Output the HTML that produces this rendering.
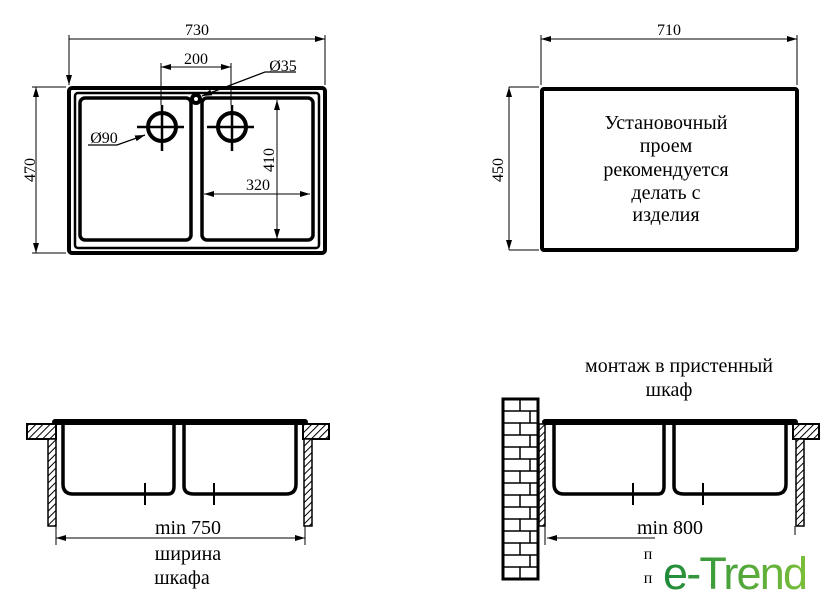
<!DOCTYPE html>
<html><head><meta charset="utf-8"><style>
html,body{margin:0;padding:0;background:#fff}
svg{display:block}
text{font-family:"Liberation Serif",serif;fill:#000}
</style></head><body>
<svg width="840" height="607" viewBox="0 0 840 607" xmlns="http://www.w3.org/2000/svg">
<defs>
<marker id="a" viewBox="0 0 10 6" refX="10" refY="3" markerWidth="10" markerHeight="6" orient="auto-start-reverse" markerUnits="userSpaceOnUse"><path d="M0,0L10,3L0,6z" fill="#000"/></marker>
<pattern id="h" width="5" height="5" patternUnits="userSpaceOnUse" patternTransform="rotate(45)"><rect width="5" height="5" fill="#fff"/><line x1="0" y1="0" x2="0" y2="5" stroke="#000" stroke-width="2"/></pattern>
<linearGradient id="g" x1="0" x2="1" y1="0" y2="0"><stop offset="0" stop-color="#1f8a3a"/><stop offset="1" stop-color="#7cbf3a"/></linearGradient>
</defs>
<!-- TOP LEFT -->
<g fill="none" stroke="#000">
<rect x="69" y="88" width="256" height="165" rx="3" stroke-width="4"/>
<rect x="75" y="93" width="244" height="155" rx="3" stroke-width="2.5"/>
<rect x="80" y="98" width="111" height="142" rx="5" stroke-width="3.5"/>
<rect x="202" y="98" width="111" height="142" rx="5" stroke-width="3.5"/>
<circle cx="196" cy="99" r="4" stroke-width="4"/>
<circle cx="162" cy="127" r="14" stroke-width="4"/>
<circle cx="232" cy="127" r="14" stroke-width="4"/>
<path d="M137 127H184M162 105V151M207 127H254M232 105V151" stroke-width="2.5"/>
<path d="M69 85V35M325 85V35M69 39H325" stroke-width="1" marker-start="url(#a)" marker-end="url(#a)"/>
<path d="M161 105V63M231 105V63" stroke-width="1"/>
<path d="M161 67H231" stroke-width="1" marker-start="url(#a)" marker-end="url(#a)"/>
<path d="M66 87H32M66 253H32" stroke-width="1"/>
<path d="M36 87V253" stroke-width="1" marker-start="url(#a)" marker-end="url(#a)"/>
<path d="M277 100V239" stroke-width="1" marker-start="url(#a)" marker-end="url(#a)"/>
<path d="M204 194H310" stroke-width="1" marker-start="url(#a)" marker-end="url(#a)"/>
<path d="M88 145H117L145 135" stroke-width="1.3" marker-end="url(#a)"/>
<path d="M296 72H265L202 96" stroke-width="1.3" marker-end="url(#a)"/>
</g>
<g font-size="16" text-anchor="middle">
<text x="197" y="35">730</text>
<text x="196" y="64">200</text>
<text x="283" y="71">Ø35</text>
<text x="104" y="143">Ø90</text>
<text x="258" y="190">320</text>
<text transform="translate(35,170) rotate(-90)">470</text>
<text transform="translate(274,160) rotate(-90)">410</text>
</g>
<!-- TOP RIGHT -->
<g fill="none" stroke="#000">
<rect x="542" y="89" width="255" height="161" rx="2" stroke-width="4"/>
<path d="M541 85V35M797 85V35M509 87H539M509 250H539" stroke-width="1"/>
<path d="M541 39H797" stroke-width="1" marker-start="url(#a)" marker-end="url(#a)"/>
<path d="M509 87V250" stroke-width="1" marker-start="url(#a)" marker-end="url(#a)"/>
</g>
<g font-size="16" text-anchor="middle">
<text x="669" y="35">710</text>
<text transform="translate(503,170) rotate(-90)">450</text>
</g>
<g font-size="20" text-anchor="middle">
<text x="666" y="129">Установочный</text>
<text x="666" y="152">проем</text>
<text x="666" y="176">рекомендуется</text>
<text x="666" y="199">делать с</text>
<text x="666" y="221">изделия</text>
</g>
<!-- BOTTOM LEFT -->
<g stroke="#000">
<rect x="27" y="424" width="29" height="15" fill="url(#h)" stroke-width="2"/>
<rect x="303" y="424" width="26" height="15" fill="url(#h)" stroke-width="2"/>
<rect x="48" y="439" width="8" height="87" fill="url(#h)" stroke-width="1.5"/>
<rect x="304" y="439" width="8" height="87" fill="url(#h)" stroke-width="1.5"/>
<path d="M55 422H305" stroke-width="6" stroke-linecap="round"/>
<g fill="none" stroke-width="3.5">
<path d="M63 425V484Q63 494 73 494H168Q174 494 174 486V425"/>
<path d="M184 425V486Q184 494 194 494H286Q296 494 296 484V425"/>
</g>
<path d="M145 483V505M214 483V505" stroke-width="2"/>
<path d="M56 526V545M305 526V545" stroke-width="1"/>
<path d="M56 538H305" stroke-width="1" fill="none" marker-start="url(#a)" marker-end="url(#a)"/>
</g>
<g font-size="20" text-anchor="middle">
<text x="188" y="534">min 750</text>
<text x="188" y="560">ширина</text>
<text x="182" y="584">шкафа</text>
</g>
<!-- BOTTOM RIGHT -->
<text x="679" y="372" font-size="20" text-anchor="middle">монтаж в пристенный</text>
<text x="669" y="396" font-size="20" text-anchor="middle">шкаф</text>
<g stroke="#000">
<rect x="503" y="399" width="35" height="180" fill="#fff" stroke-width="3"/>
<g stroke-width="1.5">
<path d="M503 411H538M503 423H538M503 435H538M503 447H538M503 459H538M503 471H538M503 483H538M503 495H538M503 507H538M503 519H538M503 531H538M503 543H538M503 555H538M503 567H538"/>
<path d="M520 399V411M530 411V423M520 423V435M530 435V447M520 447V459M530 459V471M520 471V483M530 483V495M520 495V507M530 507V519M520 519V531M530 531V543M520 543V555M530 555V567M520 567V579"/>
</g>
<rect x="539" y="424" width="6" height="102" fill="url(#h)" stroke-width="1.5"/>
<rect x="793" y="424" width="26" height="15" fill="url(#h)" stroke-width="2"/>
<rect x="796" y="439" width="8" height="87" fill="url(#h)" stroke-width="1.5"/>
<path d="M545 422H795" stroke-width="6" stroke-linecap="round"/>
<g fill="none" stroke-width="3.5">
<path d="M554 425V484Q554 494 564 494H658Q664 494 664 486V425"/>
<path d="M674 425V486Q674 494 684 494H776Q786 494 786 484V425"/>
</g>
<path d="M633 483V505M703 483V505" stroke-width="2"/>
<path d="M545 526V545M795 526V535" stroke-width="1"/>
<path d="M655 538H547" stroke-width="1" fill="none" marker-end="url(#a)"/>
</g>
<text x="670" y="534" font-size="20" text-anchor="middle">min 800</text>
<text x="648" y="559" font-size="16" text-anchor="middle">п</text>
<text x="648" y="583" font-size="16" text-anchor="middle">п</text>
<text x="663" y="589" font-size="45" textLength="145" style="font-family:'Liberation Sans',sans-serif;fill:url(#g)">e-Trend</text>
</svg>
</body></html>
